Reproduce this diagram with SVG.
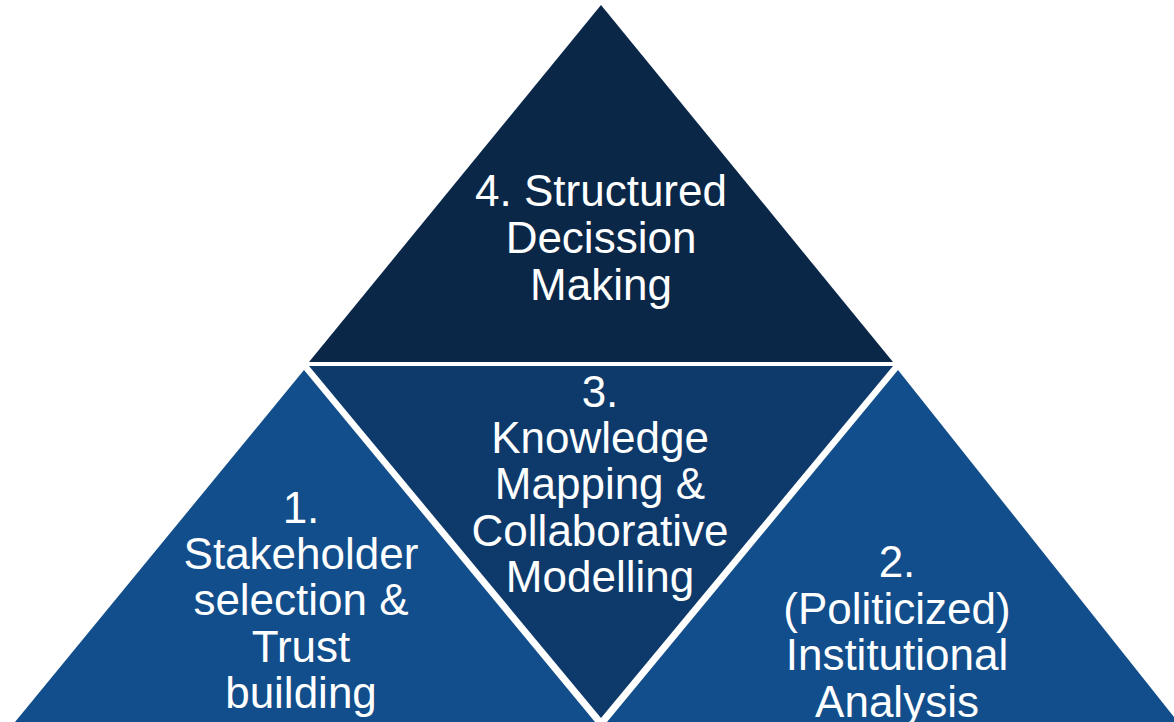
<svg xmlns="http://www.w3.org/2000/svg" width="1174" height="722" viewBox="0 0 1174 722">
<style>
.lbl{font-family:"Liberation Sans",Arial,sans-serif;font-size:44px;fill:#ffffff;text-anchor:middle}
</style>
<rect width="1174" height="722" fill="#ffffff"/>
<g id="node-4">
<polygon points="601,5 893,362 309,362" fill="#0a2748"/>
<text class="lbl"><tspan x="601" y="206">4. Structured</tspan><tspan x="601" y="253">Decission</tspan><tspan x="601" y="300">Making</tspan></text>
</g>
<g id="node-3">
<polygon points="309,366 893,366 601,718" fill="#0d3a6b"/>
<text class="lbl"><tspan x="600" y="407">3.</tspan><tspan x="600" y="453">Knowledge</tspan><tspan x="600" y="499">Mapping &amp;</tspan><tspan x="600" y="546">Collaborative</tspan><tspan x="600" y="592">Modelling</tspan></text>
</g>
<g id="node-1">
<polygon points="304,370 595,722 15,722" fill="#124e8b"/>
<text class="lbl"><tspan x="301" y="523">1.</tspan><tspan x="301" y="569">Stakeholder</tspan><tspan x="301" y="615">selection &amp;</tspan><tspan x="301" y="662">Trust</tspan><tspan x="301" y="708">building</tspan></text>
</g>
<g id="node-2">
<polygon points="898,370 1178,722 607,722" fill="#124e8b"/>
<text class="lbl"><tspan x="897" y="577">2.</tspan><tspan x="897" y="624">(Politicized)</tspan><tspan x="897" y="670">Institutional</tspan><tspan x="897" y="717">Analysis</tspan></text>
</g>
<g id="connectors"></g>
</svg>
